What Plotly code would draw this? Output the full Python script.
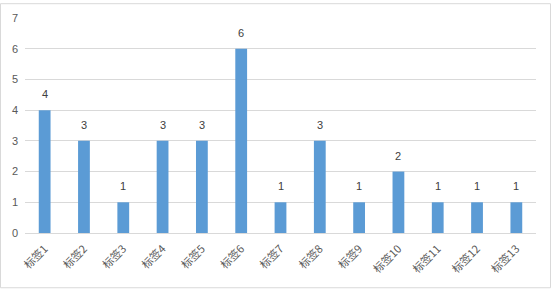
import plotly.graph_objects as go

categories = ["标签1", "标签2", "标签3", "标签4", "标签5", "标签6", "标签7",
              "标签8", "标签9", "标签10", "标签11", "标签12", "标签13"]
values = [4, 3, 1, 3, 3, 6, 1, 3, 1, 2, 1, 1, 1]
y_ticks = [0, 1, 2, 3, 4, 5, 6, 7]

W, H = 551, 289
L, R, T, B = 25, 15, 15, 56
pw, ph = W - L - R, H - T - B

fig = go.Figure(go.Bar(
    x=categories, y=values,
    marker=dict(color="#5b9bd5", line=dict(width=0)),
    hoverinfo="x+y",
))

annotations = [
    dict(x=c, y=v, xref="x", yref="y", text=str(v), showarrow=False,
         yanchor="middle", yshift=16,
         font=dict(size=11, color="#404040", family="Liberation Sans"))
    for c, v in zip(categories, values)
]

fig.update_layout(
    width=W, height=H,
    margin=dict(l=L, r=R, t=T, b=B),
    paper_bgcolor="white", plot_bgcolor="white",
    bargap=0.7,
    showlegend=False,
    font=dict(family="Noto Sans CJK SC", color="#595959"),
    annotations=annotations,
    xaxis=dict(
        tickangle=-45, tickfont=dict(size=11, color="#595959", family="Noto Sans CJK SC"),
        showgrid=False, showline=True, linecolor="#d9d9d9", linewidth=1,
        ticks="", zeroline=False, ticklabelstandoff=4,
    ),
    yaxis=dict(
        range=[0, 7], tickvals=y_ticks, showgrid=True, gridcolor="#d9d9d9",
        gridwidth=1, zeroline=False, showline=False, ticks="",
        tickfont=dict(size=11, color="#595959", family="Liberation Sans"),
        ticklabelstandoff=6,
    ),
    shapes=[dict(
        type="rect", xref="paper", yref="paper",
        x0=(0.5 - L) / pw, x1=(W - 0.5 - L) / pw,
        y0=(T + ph - (H - 0.5)) / ph, y1=(T + ph - 0.5) / ph,
        line=dict(color="#d9d9d9", width=1), layer="below",
    )],
)

fig.write_html("out.html")
